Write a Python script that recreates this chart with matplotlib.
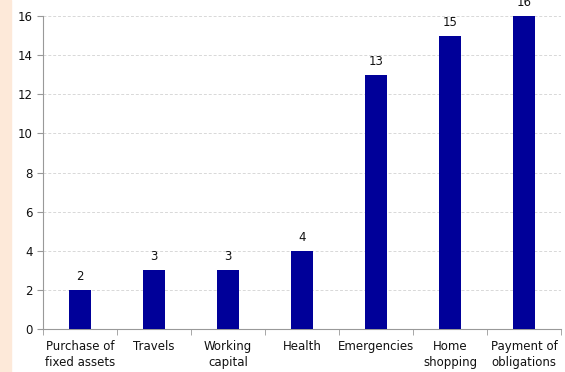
import numpy as np
import matplotlib.pyplot as plt
import matplotlib.patches as mpatches

categories = ["Purchase of\nfixed assets", "Travels", "Working\ncapital", "Health",
              "Emergencies", "Home\nshopping", "Payment of\nobligations"]
counts = [2, 3, 3, 4, 13, 15, 16]
yticks = [0, 2, 4, 6, 8, 10, 12, 14, 16]

plt.rcParams['font.family'] = ['DejaVu Sans']
plt.rcParams['font.size'] = 8.5

fig = plt.figure(figsize=(5.65, 3.72), dpi=100)
# peach strip at the left edge
fig.patches.append(mpatches.Rectangle((0, 0), 11 / 565, 1, transform=fig.transFigure,
                                      color='#fde9d9', zorder=0))

ax = fig.add_axes([43 / 565, 1 - 329 / 372, 518 / 565, 313 / 372])
x = np.arange(len(categories))
bars = ax.bar(x, counts, width=0.31, color='#000099', zorder=3)
for xi, v in zip(x, counts):
    ax.text(xi, v + 0.35, str(v), ha='center', va='bottom', fontsize=8.5, color='#111111')

ax.set_xlim(-0.5, len(categories) - 0.5)
ax.set_ylim(0, 16)
ax.set_yticks(yticks)
ax.set_xticks(x)
ax.set_xticklabels(categories, fontsize=8.5, color='#111111', linespacing=1.25)
ax.set_xticks(np.arange(len(categories) + 1) - 0.5, minor=True)
ax.tick_params(axis='x', which='major', length=0, pad=8)
ax.tick_params(axis='x', which='minor', length=4, color='#999999')
ax.tick_params(axis='y', length=4, color='#999999', labelsize=8.5, labelcolor='#111111')
ax.yaxis.grid(True, color='#d8d8d8', linestyle=(0, (3, 2)), linewidth=0.7, zorder=0)
for s in ['top', 'right']:
    ax.spines[s].set_visible(False)
for s in ['left', 'bottom']:
    ax.spines[s].set_color('#999999')

fig.savefig('out.png', dpi=100)
